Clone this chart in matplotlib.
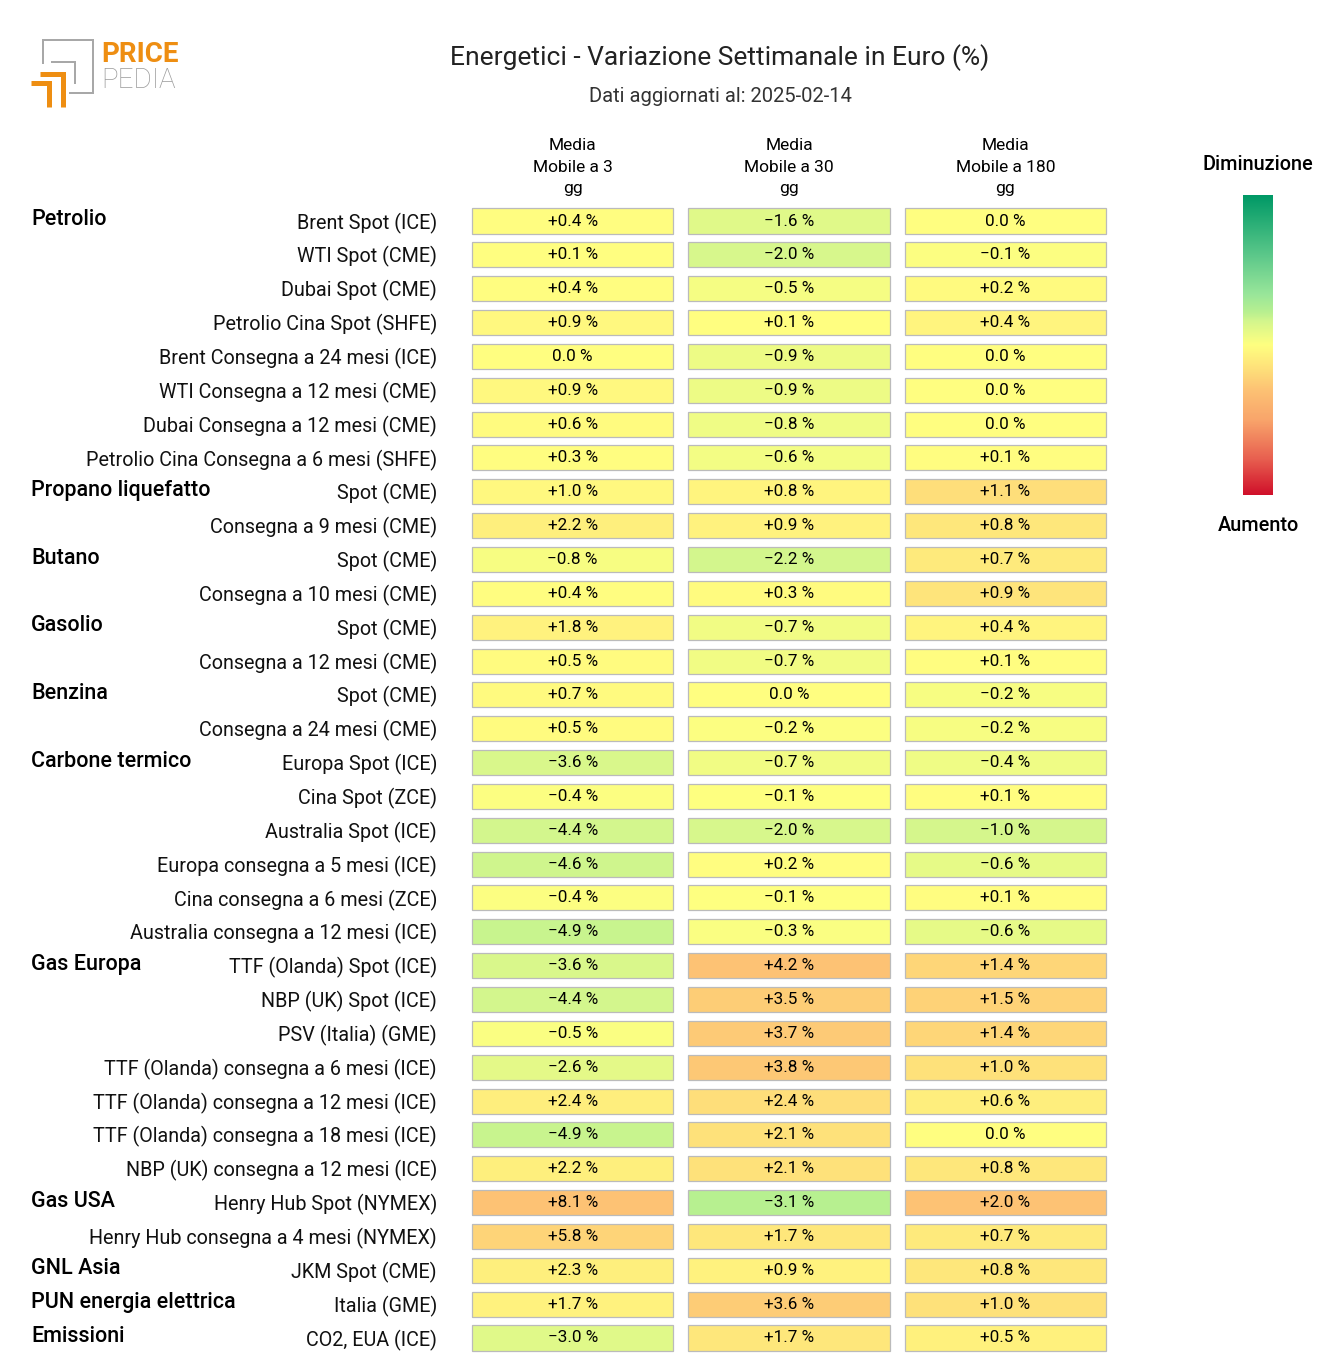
import matplotlib
matplotlib.use("Agg")
import matplotlib.pyplot as plt
import matplotlib.transforms as mtransforms
from matplotlib.colors import LinearSegmentedColormap, Normalize
from matplotlib.patches import Rectangle
import numpy as np

plt.rcParams['font.family'] = ['Roboto', 'DejaVu Sans']

title = "Energetici - Variazione Settimanale in Euro (%)"
subtitle = "Dati aggiornati al: 2025-02-14"
columns = ["Media\nMobile a 3\ngg", "Media\nMobile a 30\ngg", "Media\nMobile a 180\ngg"]

groups = ["Petrolio", "", "", "", "", "", "", "",
          "Propano liquefatto", "",
          "Butano", "",
          "Gasolio", "",
          "Benzina", "",
          "Carbone termico", "", "", "", "", "",
          "Gas Europa", "", "", "", "", "", "",
          "Gas USA", "",
          "GNL Asia",
          "PUN energia elettrica",
          "Emissioni"]

labels = ["Brent Spot (ICE)", "WTI Spot (CME)", "Dubai Spot (CME)", "Petrolio Cina Spot (SHFE)",
          "Brent Consegna a 24 mesi (ICE)", "WTI Consegna a 12 mesi (CME)",
          "Dubai Consegna a 12 mesi (CME)", "Petrolio Cina Consegna a 6 mesi (SHFE)",
          "Spot (CME)", "Consegna a 9 mesi (CME)",
          "Spot (CME)", "Consegna a 10 mesi (CME)",
          "Spot (CME)", "Consegna a 12 mesi (CME)",
          "Spot (CME)", "Consegna a 24 mesi (CME)",
          "Europa Spot (ICE)", "Cina Spot (ZCE)", "Australia Spot (ICE)",
          "Europa consegna a 5 mesi (ICE)", "Cina consegna a 6 mesi (ZCE)",
          "Australia consegna a 12 mesi (ICE)",
          "TTF (Olanda) Spot (ICE)", "NBP (UK) Spot (ICE)", "PSV (Italia) (GME)",
          "TTF (Olanda) consegna a 6 mesi (ICE)", "TTF (Olanda) consegna a 12 mesi (ICE)",
          "TTF (Olanda) consegna a 18 mesi (ICE)", "NBP (UK) consegna a 12 mesi (ICE)",
          "Henry Hub Spot (NYMEX)", "Henry Hub consegna a 4 mesi (NYMEX)",
          "JKM Spot (CME)", "Italia (GME)", "CO2, EUA (ICE)"]

mm3 = [0.4, 0.1, 0.4, 0.9, 0.0, 0.9, 0.6, 0.3,
       1.0, 2.2, -0.8, 0.4, 1.8, 0.5, 0.7, 0.5,
       -3.6, -0.4, -4.4, -4.6, -0.4, -4.9,
       -3.6, -4.4, -0.5, -2.6, 2.4, -4.9, 2.2,
       8.1, 5.8, 2.3, 1.7, -3.0]
mm30 = [-1.6, -2.0, -0.5, 0.1, -0.9, -0.9, -0.8, -0.6,
        0.8, 0.9, -2.2, 0.3, -0.7, -0.7, 0.0, -0.2,
        -0.7, -0.1, -2.0, 0.2, -0.1, -0.3,
        4.2, 3.5, 3.7, 3.8, 2.4, 2.1, 2.1,
        -3.1, 1.7, 0.9, 3.6, 1.7]
mm180 = [0.0, -0.1, 0.2, 0.4, 0.0, 0.0, 0.0, 0.1,
         1.1, 0.8, 0.7, 0.9, 0.4, 0.1, -0.2, -0.2,
         -0.4, 0.1, -1.0, -0.6, 0.1, -0.6,
         1.4, 1.5, 1.4, 1.0, 0.6, 0.0, 0.8,
         2.0, 0.7, 0.8, 1.0, 0.5]

W, H = 1320, 1357
fig = plt.figure(figsize=(W / 100, H / 100), dpi=100)
fig.patch.set_facecolor("white")

cmap = LinearSegmentedColormap.from_list("rg", [
    (0.0, "#009966"), (0.2, "#5CC88A"), (0.33, "#99E69A"), (0.39, "#B8F090"),
    (0.42, "#D3F68D"), (0.5, "#FFFF80"), (0.58, "#FEE07A"), (0.65, "#FDC274"),
    (0.75, "#F9A56B"), (0.88, "#E86050"), (1.0, "#D0102A")])

data = np.array([mm3, mm30, mm180]).T
n = len(labels)

pitch = (1338 - 221) / (n - 1)
top_px = 221 - pitch / 2
bot_px = 1338 + pitch / 2
left_px, right_px = 464.5, 1113.5
ax = fig.add_axes([left_px / W, 1 - bot_px / H, (right_px - left_px) / W, (bot_px - top_px) / H])
ax.set_xlim(0, 3)
ax.set_ylim(n - 0.5, -0.5)
ax.axis("off")

cw, ch = 0.93, 0.74
for j in range(3):
    col = data[:, j]
    m = np.abs(col).max() / 0.3
    norm = Normalize(-m, m)
    for i in range(n):
        v = col[i]
        ax.add_patch(Rectangle((j + 0.5 - cw / 2, i - ch / 2), cw, ch,
                               facecolor=cmap(norm(v)), edgecolor="#BBBBBB", linewidth=0.9))
        if abs(v) < 0.05:
            s = "0.0 %"
        elif v > 0:
            s = f"+{v:.1f} %"
        else:
            s = f"\u2212{abs(v):.1f} %"
        ax.text(j + 0.5, i, s, ha="center", va="center", fontsize=12.3, color="black")

# column headers
trans_hdr = mtransforms.blended_transform_factory(ax.transData, fig.transFigure)
for j, c in enumerate(columns):
    ax.text(j + 0.5, 1 - 167 / H, c, transform=trans_hdr, ha="center", va="center",
            fontsize=12.5, linespacing=1.5)

# row labels
trans_lbl = mtransforms.blended_transform_factory(fig.transFigure, ax.transData)
for i in range(n):
    ax.text(437 / W, i + 0.06, labels[i], transform=trans_lbl, ha="right", va="center",
            fontsize=14.2, color="#111111")
    if groups[i]:
        ax.text(31 / W, i - 0.04, groups[i], transform=trans_lbl, ha="left", va="center",
                fontsize=15.5, fontweight="medium", color="black")

# titles
fig.text(720 / W, 1 - 58 / H, title, ha="center", va="center", fontsize=19, color="#222222")
fig.text(720 / W, 1 - 97 / H, subtitle, ha="center", va="center", fontsize=14.5, color="#333333")

# colorbar
cax = fig.add_axes([1243 / W, 1 - 495 / H, 30 / W, 300 / H])
grad = np.linspace(0, 1, 256).reshape(-1, 1)
cax.imshow(grad, aspect="auto", cmap=cmap, extent=[0, 1, 1, 0])
cax.set_xticks([])
cax.set_yticks([])
for s in cax.spines.values():
    s.set_visible(False)
fig.text(1258 / W, 1 - 165 / H, "Diminuzione", ha="center", va="center", fontsize=14.3, fontweight="medium")
fig.text(1258 / W, 1 - 525 / H, "Aumento", ha="center", va="center", fontsize=14.3, fontweight="medium")

# logo
lax = fig.add_axes([0, 0, 1, 1], zorder=-1)
lax.set_xlim(0, W)
lax.set_ylim(H, 0)
lax.axis("off")
gray = "#A8A8A8"
orange = "#EE8E12"
lw = 2.0 * 0.72
lax.plot([43, 43, 93, 93, 70], [63, 40, 40, 93, 93], color=gray, lw=lw, solid_joinstyle="miter")
lax.plot([52, 75, 75], [62, 62, 83], color=gray, lw=lw, solid_joinstyle="miter")
lax.plot([40, 62.5, 62.5], [74.2, 74.2, 107], color=orange, lw=5 * 0.72, solid_joinstyle="miter", solid_capstyle="butt")
lax.plot([31, 49.2, 49.2], [83.3, 83.3, 107], color=orange, lw=5 * 0.72, solid_joinstyle="miter", solid_capstyle="butt")
lax.text(101, 55, "PRICE", ha="left", va="center", fontsize=20, fontweight="bold", color=orange)
lax.text(101, 81, "PEDIA", ha="left", va="center", fontsize=20, fontweight="light", color="#9A9A9A")

fig.savefig("out.png", dpi=100, facecolor="white")
